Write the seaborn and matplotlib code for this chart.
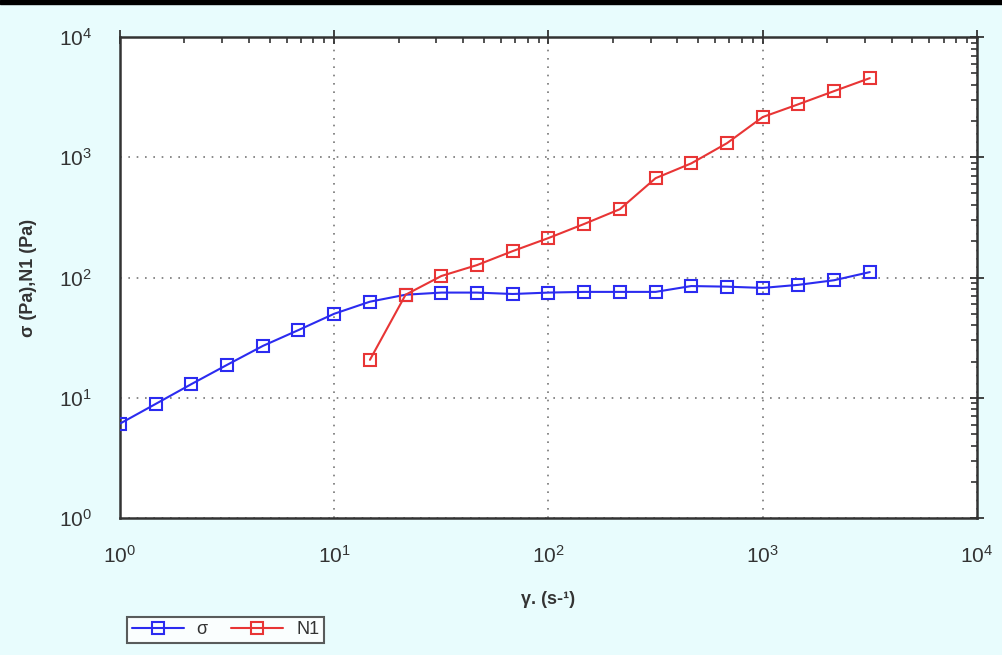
import numpy as np
import pandas as pd
import matplotlib
matplotlib.use("Agg")
import matplotlib.pyplot as plt
import seaborn as sns
from matplotlib.ticker import LogLocator, NullFormatter
from matplotlib.lines import Line2D

# shear rate (s-1)
shear_rate = [1.0, 1.468, 2.154, 3.162, 4.642, 6.813, 10.0, 14.68, 21.54, 31.62, 46.42,
              68.13, 100.0, 146.8, 215.4, 316.2, 464.2, 681.3, 1000.0, 1468.0, 2154.0, 3162.0]
sigma = [6.1, 8.9, 13.0, 18.8, 27.0, 36.6, 50.0, 63.0, 72.0, 75.0, 75.0,
         73.0, 75.0, 76.0, 76.0, 76.0, 85.0, 84.0, 82.0, 87.0, 95.0, 111.0]
n1_rate = [14.68, 21.54, 31.62, 46.42, 68.13, 100.0, 146.8, 215.4, 316.2, 464.2,
           681.3, 1000.0, 1468.0, 2154.0, 3162.0]
n1 = [20.7, 72.0, 103.0, 127.0, 166.0, 213.0, 279.0, 370.0, 670.0, 890.0,
      1310.0, 2160.0, 2760.0, 3550.0, 4550.0]

sns.set_style("white")
plt.rcParams['font.family'] = ['Liberation Sans', 'DejaVu Sans']
plt.rcParams['mathtext.default'] = 'regular'

bg = "#e8fcfd"
fig = plt.figure(figsize=(10.03, 6.55), dpi=100, facecolor=bg)
ax = fig.add_axes([0.1196, 0.209, 0.8544, 0.7345])
ax.set_facecolor("white")

df_s = pd.DataFrame({"x": shear_rate, "y": sigma})
df_n = pd.DataFrame({"x": n1_rate, "y": n1})
sns.lineplot(data=df_s, x="x", y="y", ax=ax, color="#2b2bf0", marker="s",
             markersize=9, markerfacecolor="none", markeredgecolor="#2b2bf0",
             markeredgewidth=1.5, linewidth=1.5, zorder=3)
sns.lineplot(data=df_n, x="x", y="y", ax=ax, color="#e83535", marker="s",
             markersize=9, markerfacecolor="none", markeredgecolor="#e83535",
             markeredgewidth=1.5, linewidth=1.5, zorder=3)

ax.set_xscale("log")
ax.set_yscale("log")
ax.set_xlim(1, 1e4)
ax.set_ylim(1, 1e4)
ax.xaxis.set_major_locator(LogLocator(base=10, numticks=10))
ax.yaxis.set_major_locator(LogLocator(base=10, numticks=10))
ax.xaxis.set_minor_locator(LogLocator(base=10, subs=np.arange(2, 10), numticks=40))
ax.yaxis.set_minor_locator(LogLocator(base=10, subs=np.arange(2, 10), numticks=40))
ax.xaxis.set_minor_formatter(NullFormatter())
ax.yaxis.set_minor_formatter(NullFormatter())

ax.grid(True, which="major", linestyle=(0, (1, 4)), color="#777777", linewidth=1.2)
for s in ax.spines.values():
    s.set_color("#333333")
    s.set_linewidth(1.8)
ax.tick_params(which="major", direction="inout", length=10, width=1.3,
               top=True, right=True, labelsize=15, labelcolor="#333333",
               color="#333333")
ax.tick_params(axis="x", which="major", pad=14)
ax.tick_params(axis="y", which="major", pad=15)
ax.tick_params(which="minor", direction="in", length=4, width=1.2,
               top=True, right=True, color="#333333")

ax.set_xlabel("γ. (s-¹)", fontsize=13, fontweight="bold", color="#333333", labelpad=18)
ax.set_ylabel("σ (Pa),N1 (Pa)", fontsize=13, fontweight="bold", color="#333333", labelpad=16)

handles = [Line2D([], [], color="#2b2bf0", marker="s", markersize=9, markerfacecolor="none",
                  markeredgewidth=1.5, linewidth=1.5),
           Line2D([], [], color="#e83535", marker="s", markersize=9, markerfacecolor="none",
                  markeredgewidth=1.5, linewidth=1.5)]
leg = fig.legend(handles, ["σ", "N1"], ncol=2, loc="lower left",
                 bbox_to_anchor=(118 / 1003, 1 - 652 / 655), fontsize=13,
                 frameon=True, fancybox=False, borderpad=0.25, handlelength=2.9,
                 columnspacing=1.3, handletextpad=0.7)
leg.get_frame().set_edgecolor("#333333")
leg.get_frame().set_linewidth(1.5)
for t in leg.get_texts():
    t.set_color("#333333")

fig.add_artist(plt.Rectangle((0, 1 - 4 / 655), 1, 4 / 655, transform=fig.transFigure,
                             color="black"))

fig.savefig("out.png", dpi=100, facecolor=bg)
